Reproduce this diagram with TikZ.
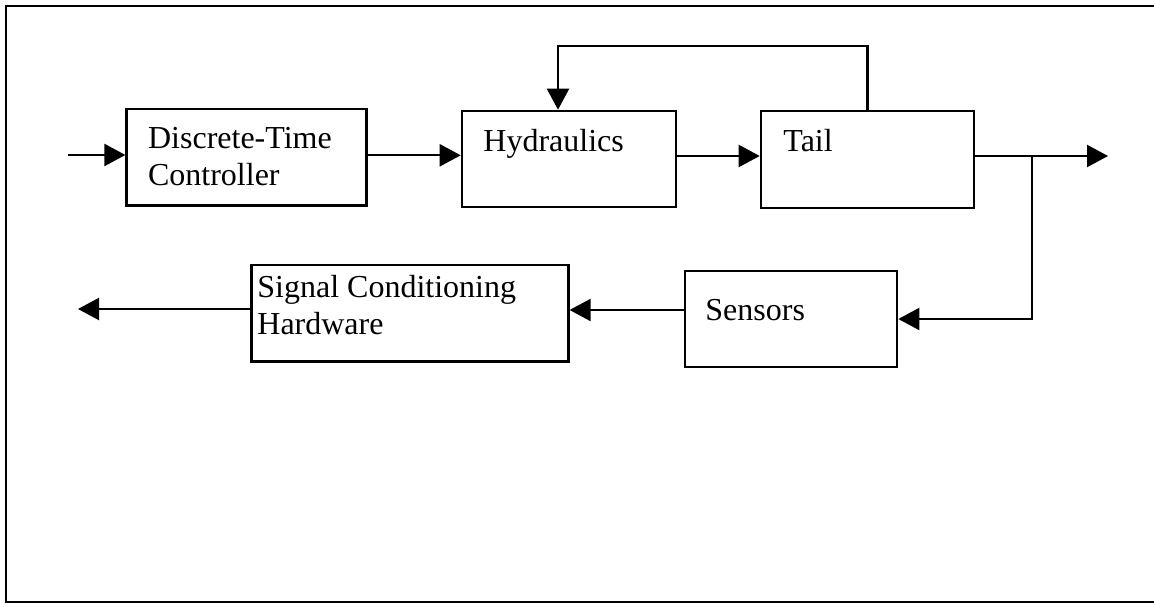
\documentclass[tikz,border=0pt]{standalone}
\usepackage{fontspec}
\setmainfont{Liberation Serif}
\usetikzlibrary{arrows.meta}
\tikzset{
  blk/.style={draw, line width=1.3pt, inner sep=0pt},
  lbl/.style={anchor=base west, inner sep=0pt, align=left, font=\fontsize{16pt}{18.5pt}\selectfont},
  con/.style={line width=1.1pt, -{Triangle[length=10.5pt,width=11pt]}}
}
\begin{document}
\begin{tikzpicture}[x=0.5pt, y=-0.5pt]
    \useasboundingbox (0,0) rectangle (1154,603);
    \draw[line width=1.2pt] (1160,6) -- (6,6) -- (6,602) -- (1160,602);
    \node[blk, minimum width=120pt, minimum height=48.3pt] (ctrl) at (246.7,157.3) {};
    \node[blk, minimum width=107pt, minimum height=48pt] (hyd) at (569,159) {};
    \node[blk, minimum width=106.5pt, minimum height=48.5pt] (tail) at (867.5,159.5) {};
    \node[blk, minimum width=106pt, minimum height=48pt] (sens) at (791,319) {};
    \node[blk, minimum width=158.3pt, minimum height=48.3pt] (sigc) at (410,313.3) {};
    % base of a two-line label is its last line
    \node[lbl] (ctrltxt) at (147.7,186) {Discrete-Time\\Controller};
    \node[lbl] (hydtxt) at (483,151.7) {Hydraulics};
    \node[lbl] (tailtxt) at (783,152) {Tail};
    \node[lbl] (senstxt) at (705,321) {Sensors};
    \node[lbl] (sigctxt) at (257,335) {Signal Conditioning\\Hardware};
    \coordinate (in) at (68,155);
    \coordinate (out) at (1108,156);
    \coordinate (br) at (1032,156);
    \coordinate (fb) at (867,46);
    \coordinate (meas) at (78,309);
    \draw[con] (in) -- (in -| ctrl.west);
    \draw[con] ([yshift=1pt]ctrl.east) -- ([yshift=1pt]ctrl.east -| hyd.west);
    \draw[con] ([yshift=1.5pt]hyd.east) -- ([yshift=1.5pt]hyd.east -| tail.west);
    \draw[con] (tail.north) -- (tail.north |- fb) -| ([xshift=-5.5pt]hyd.north);
    \draw[con] (out -| tail.east) -- (out);
    \draw[con] (br) |- (sens.east);
    \draw[con] ([yshift=4.5pt]sens.west) -- ([yshift=4.5pt]sens.west -| sigc.east);
    \draw[con] (meas -| sigc.west) -- (meas);
\end{tikzpicture}
\end{document}
